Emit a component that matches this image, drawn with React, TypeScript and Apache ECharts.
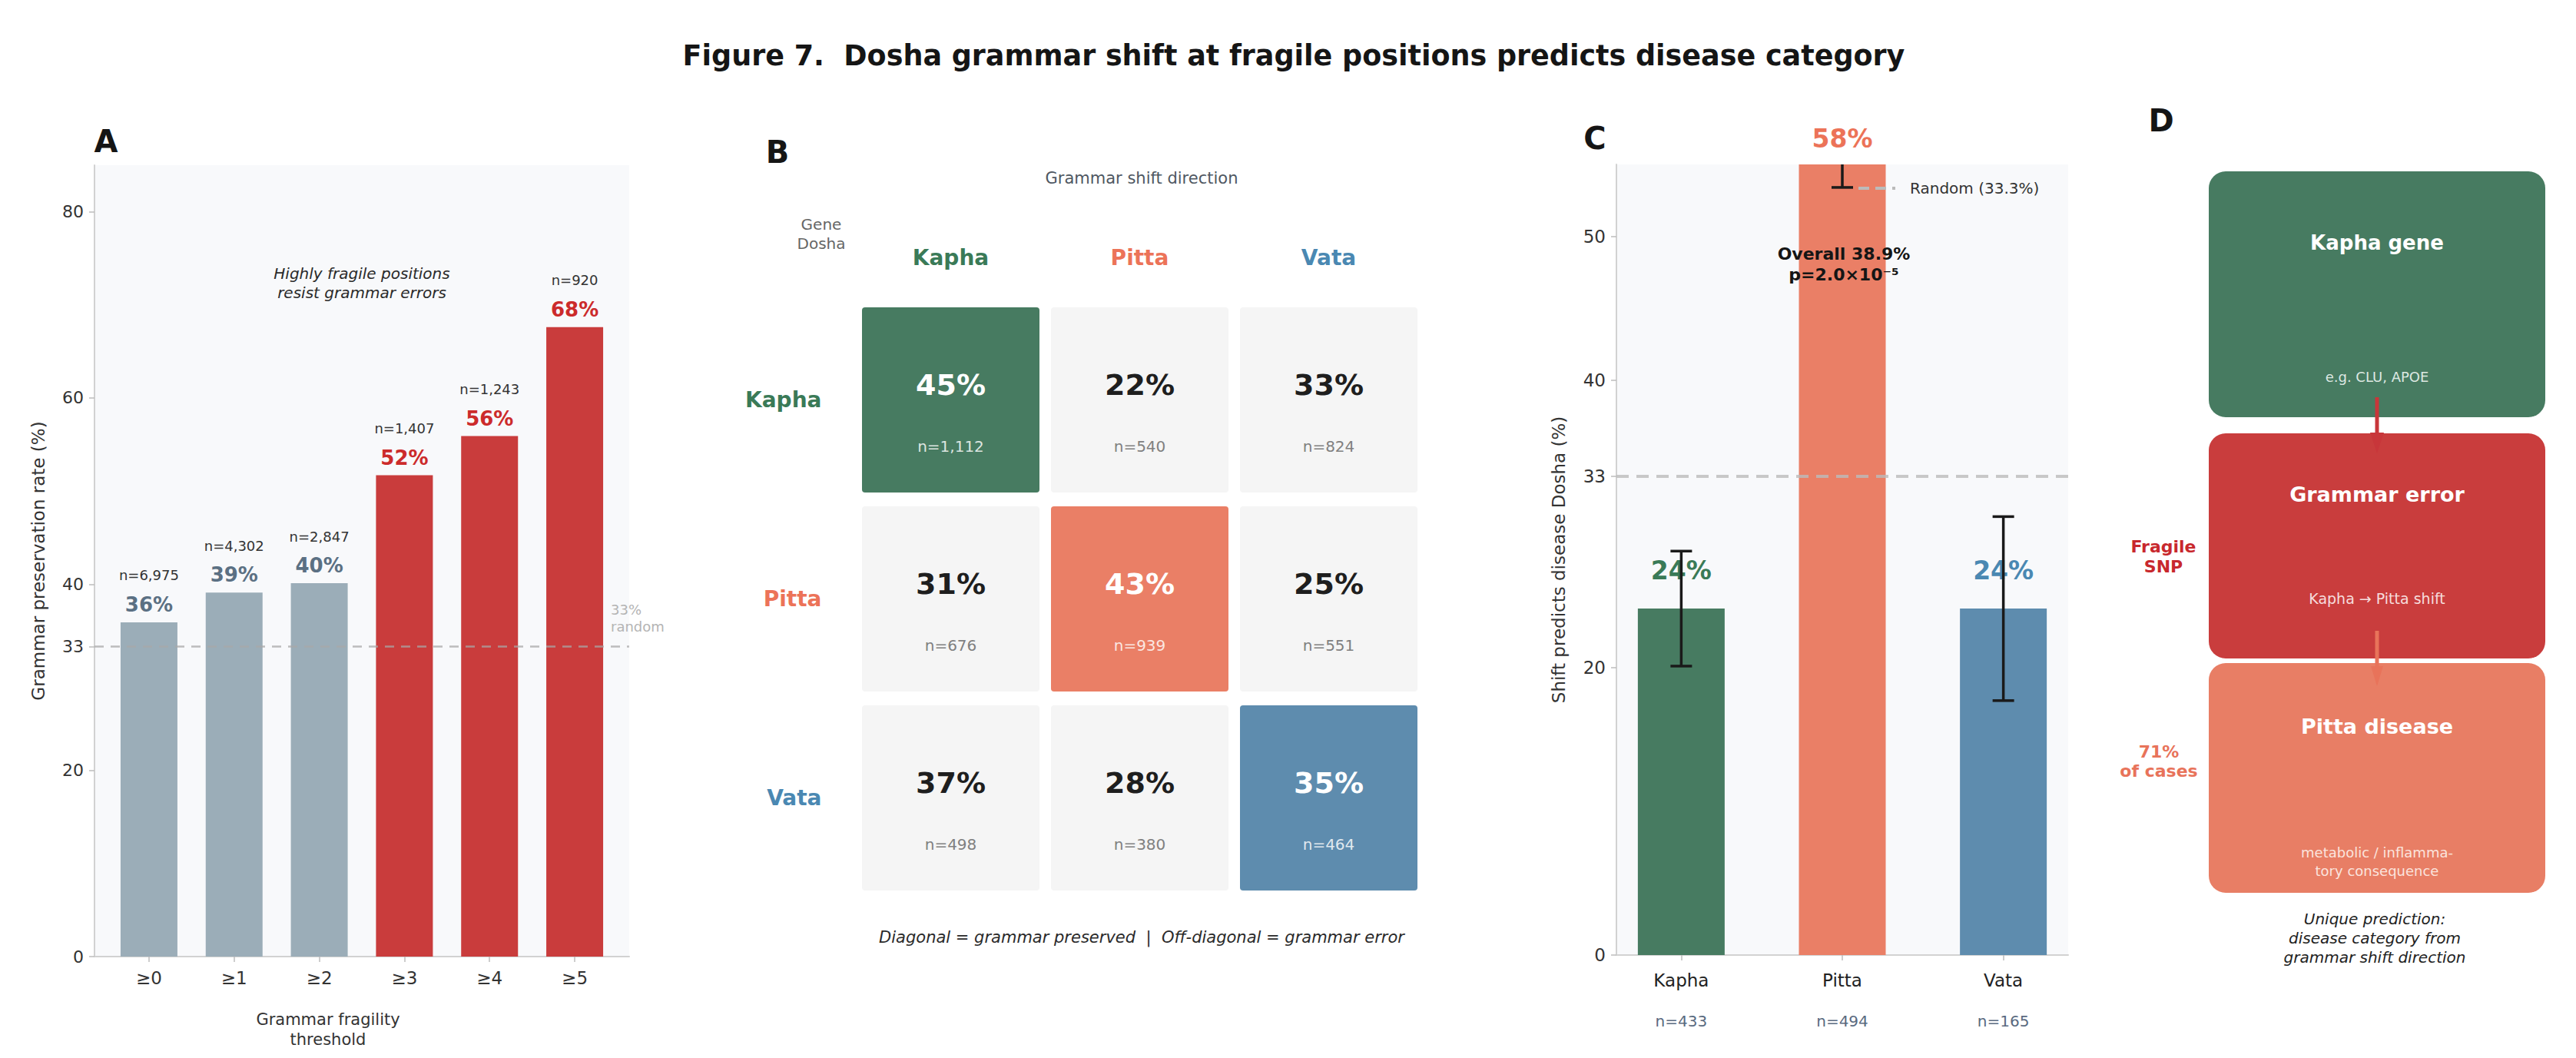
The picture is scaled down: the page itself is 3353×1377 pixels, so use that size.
import React, { useEffect, useRef } from 'react';
import * as echarts from 'echarts';

const FONT = 'DejaVu Sans';

// ---------- Panel A data ----------
const thresholds = ['≥0', '≥1', '≥2', '≥3', '≥4', '≥5'];
const preservation = [35.9, 39.1, 40.1, 51.7, 55.9, 67.6];
const thresholdN = ['6,975', '4,302', '2,847', '1,407', '1,243', '920'];
const aYTicks = [0, 20, 33.3, 40, 60, 80];
const randomRate = 33.3;

// ---------- Panel B data ----------
const doshas = ['Kapha', 'Pitta', 'Vata'];
const matrixPct = [
  [45, 22, 33],
  [31, 43, 25],
  [37, 28, 35],
];
const matrixN = [
  [1112, 540, 824],
  [676, 939, 551],
  [498, 380, 464],
];

// ---------- Panel C data ----------
const shiftCats = ['Kapha', 'Pitta', 'Vata'];
const shiftPct = [24.1, 57.9, 24.1];
const shiftLow = [20.1, 53.4, 17.7];
const shiftHigh = [28.1, 62.4, 30.5];
const shiftN = [433, 494, 165];
const cYTicks = [0, 20, 33.3, 40, 50];

// ---------- colours ----------
const KAPHA = '#477b61';
const PITTA = '#ea7f66';
const VATA = '#5e8cae';
const KAPHA_T = '#3a7a57';
const PITTA_T = '#ec7358';
const VATA_T = '#4a88b2';
const GRAY_BAR = '#9badb8';
const RED_BAR = '#c93c3c';
const cellDiag = [KAPHA, PITTA, VATA];
const headText = [KAPHA_T, PITTA_T, VATA_T];

function T(x: number, y: number, text: string, o: any = {}) {
  return {
    type: 'text',
    x,
    y,
    z: o.z ?? 20,
    style: {
      text,
      fill: o.fill ?? '#333',
      fontSize: o.size ?? 20,
      fontWeight: o.weight ?? 'normal',
      fontStyle: o.style ?? 'normal',
      fontFamily: FONT,
      lineHeight: o.lh,
      align: o.align ?? 'center',
      textAlign: o.align ?? 'center',
      verticalAlign: 'middle',
      textVerticalAlign: 'middle',
    },
  };
}

function buildOption(): any {
  const axisLineStyle = { color: '#d2d2d2', width: 2 };
  const tickStyle = { color: '#bdbdbd', width: 1.5 };

  const graphic: any[] = [
    T(1684, 72, 'Figure 7.  Dosha grammar shift at fragile positions predicts disease category', { size: 36.5, weight: 'bold', fill: '#151515' }),
    T(138, 184, 'A', { size: 40, weight: 'bold', fill: '#151515' }),
    T(1012, 198, 'B', { size: 40, weight: 'bold', fill: '#151515' }),
    T(2076, 180, 'C', { size: 40, weight: 'bold', fill: '#151515' }),
    T(2813, 157, 'D', { size: 40, weight: 'bold', fill: '#151515' }),
    // Panel A
    T(471, 368, 'Highly fragile positions\nresist grammar errors', { size: 20, style: 'italic', lh: 25, fill: '#2a2a2a' }),
    T(795, 804, '33%\nrandom', { size: 18, lh: 22, fill: '#b4b4b4', align: 'left' }),
    T(427, 1340, 'Grammar fragility\nthreshold', { size: 21, lh: 26, fill: '#333' }),
    // Panel B
    T(1486, 232, 'Grammar shift direction', { size: 21, fill: '#4f5862' }),
    T(1069, 304, 'Gene\nDosha', { size: 20, lh: 25, fill: '#666' }),
    T(1486, 1220, 'Diagonal = grammar preserved  |  Off-diagonal = grammar error', { size: 21, style: 'italic', fill: '#2a2a2a' }),
    // Panel C
    T(2400, 344, 'Overall 38.9%\np=2.0×10⁻⁵', { size: 22, weight: 'bold', lh: 27, fill: '#151515' }),
    {
      type: 'line',
      z: 20,
      shape: { x1: 2419, y1: 245, x2: 2467, y2: 245 },
      style: { stroke: '#bbbbbb', lineWidth: 4, lineDash: [14, 8] },
    },
    T(2486, 245, 'Random (33.3%)', { size: 20, align: 'left', fill: '#333' }),
    // Panel D boxes
    { type: 'rect', z: 10, shape: { x: 2875, y: 223, width: 438, height: 320, r: 22 }, style: { fill: KAPHA } },
    { type: 'rect', z: 10, shape: { x: 2875, y: 564, width: 438, height: 293, r: 22 }, style: { fill: '#c93d3d' } },
    { type: 'rect', z: 10, shape: { x: 2875, y: 863, width: 438, height: 299, r: 22 }, style: { fill: '#e87e65' } },
    T(3094, 316, 'Kapha gene', { size: 26, weight: 'bold', fill: '#ffffff' }),
    T(3094, 490, 'e.g. CLU, APOE', { size: 18, fill: '#dde8e2' }),
    T(3094, 643, 'Grammar error', { size: 27, weight: 'bold', fill: '#ffffff' }),
    T(3094, 779, 'Kapha → Pitta shift', { size: 19, fill: '#f6dddd' }),
    T(3094, 945, 'Pitta disease', { size: 27, weight: 'bold', fill: '#ffffff' }),
    T(3094, 1121, 'metabolic / inflamma-\ntory consequence', { size: 18, lh: 24, fill: '#fbe4dd' }),
    // arrows
    { type: 'line', z: 15, shape: { x1: 3094, y1: 517, x2: 3094, y2: 566 }, style: { stroke: '#c8363a', lineWidth: 5 } },
    { type: 'polygon', z: 15, shape: { points: [[3085, 563], [3103, 563], [3094, 590]] }, style: { fill: '#c8363a' } },
    { type: 'line', z: 15, shape: { x1: 3094, y1: 821, x2: 3094, y2: 870 }, style: { stroke: '#e8735a', lineWidth: 5 } },
    { type: 'polygon', z: 15, shape: { points: [[3086, 867], [3102, 867], [3094, 893]] }, style: { fill: '#e8735a' } },
    T(2816, 724, 'Fragile\nSNP', { size: 22, weight: 'bold', lh: 26, fill: '#c8282d' }),
    T(2810, 991, '71%\nof cases', { size: 22, weight: 'bold', lh: 25, fill: '#e8735a' }),
    T(3091, 1221, 'Unique prediction:\ndisease category from\ngrammar shift direction', { size: 20, style: 'italic', lh: 25, fill: '#222' }),
  ];

  const cells: number[][] = [];
  for (let r = 0; r < 3; r++) for (let c = 0; c < 3; c++) cells.push([c, r, matrixPct[r][c], matrixN[r][c]]);

  return {
    animation: false,
    backgroundColor: '#ffffff',
    textStyle: { fontFamily: FONT },
    grid: [
      { left: 123, top: 215, width: 696, height: 1030, show: true, backgroundColor: '#f8f9fb', borderWidth: 0 },
      { left: 1114.5, top: 391, width: 738, height: 777 },
      { left: 2104, top: 214, width: 588, height: 1029, show: true, backgroundColor: '#f8f9fb', borderWidth: 0 },
    ],
    xAxis: [
      {
        gridIndex: 0,
        type: 'value',
        min: -0.64,
        max: 5.64,
        splitLine: { show: false },
        axisLine: { show: true, onZero: false, lineStyle: axisLineStyle },
        axisTick: { show: true, length: 7, lineStyle: tickStyle, customValues: [0, 1, 2, 3, 4, 5] },
        axisLabel: {
          customValues: [0, 1, 2, 3, 4, 5],
          formatter: (v: number) => thresholds[Math.round(v)] ?? '',
          fontSize: 23,
          color: '#333',
          margin: 16,
        },
      },
      {
        gridIndex: 1,
        type: 'category',
        data: doshas,
        position: 'top',
        axisLine: { show: false },
        axisTick: { show: false },
        splitLine: { show: false },
        axisLabel: {
          margin: 42,
          formatter: (v: string, i: number) => `{c${i}|${v}}`,
          rich: {
            c0: { color: headText[0], fontSize: 28, fontWeight: 'bold', fontFamily: FONT },
            c1: { color: headText[1], fontSize: 28, fontWeight: 'bold', fontFamily: FONT },
            c2: { color: headText[2], fontSize: 28, fontWeight: 'bold', fontFamily: FONT },
          },
        },
      },
      {
        gridIndex: 2,
        type: 'value',
        min: -0.4025,
        max: 2.4025,
        splitLine: { show: false },
        axisLine: { show: true, onZero: false, lineStyle: axisLineStyle },
        axisTick: { show: true, length: 7, lineStyle: tickStyle, customValues: [0, 1, 2] },
        axisLabel: {
          customValues: [0, 1, 2],
          margin: 18,
          formatter: (v: number) => {
            const i = Math.round(v);
            return `{a|${shiftCats[i]}}\n{b|n=${shiftN[i]}}`;
          },
          rich: {
            a: { fontSize: 23, color: '#222', lineHeight: 30, fontFamily: FONT },
            b: { fontSize: 20, color: '#5a6a80', lineHeight: 76, fontFamily: FONT },
          },
        },
      },
    ],
    yAxis: [
      {
        gridIndex: 0,
        type: 'value',
        min: 0,
        max: 85,
        splitLine: { show: false },
        axisLine: { show: true, onZero: false, lineStyle: axisLineStyle },
        axisTick: { show: true, length: 7, lineStyle: tickStyle, customValues: aYTicks },
        axisLabel: {
          customValues: aYTicks,
          formatter: (v: number) => String(Math.round(v)),
          fontSize: 22,
          color: '#333',
          margin: 14,
        },
        name: 'Grammar preservation rate (%)',
        nameLocation: 'middle',
        nameGap: 62,
        nameTextStyle: { fontSize: 23, color: '#333', fontFamily: FONT },
      },
      {
        gridIndex: 1,
        type: 'category',
        data: doshas,
        inverse: true,
        axisLine: { show: false },
        axisTick: { show: false },
        splitLine: { show: false },
        axisLabel: {
          margin: 45,
          formatter: (v: string, i: number) => `{c${i}|${v}}`,
          rich: {
            c0: { color: headText[0], fontSize: 28, fontWeight: 'bold', fontFamily: FONT },
            c1: { color: headText[1], fontSize: 28, fontWeight: 'bold', fontFamily: FONT },
            c2: { color: headText[2], fontSize: 28, fontWeight: 'bold', fontFamily: FONT },
          },
        },
      },
      {
        gridIndex: 2,
        type: 'value',
        min: 0,
        max: 55,
        splitLine: { show: false },
        axisLine: { show: true, onZero: false, lineStyle: axisLineStyle },
        axisTick: { show: true, length: 7, lineStyle: tickStyle, customValues: cYTicks },
        axisLabel: {
          customValues: cYTicks,
          formatter: (v: number) => String(Math.round(v)),
          fontSize: 23,
          color: '#333',
          margin: 14,
        },
        name: 'Shift predicts disease Dosha (%)',
        nameLocation: 'middle',
        nameGap: 64,
        nameTextStyle: { fontSize: 23, color: '#333', fontFamily: FONT },
      },
    ],
    series: [
      {
        type: 'bar',
        xAxisIndex: 0,
        yAxisIndex: 0,
        barWidth: 74,
        data: preservation.map((v, i) => ({ value: [i, v], itemStyle: { color: i < 3 ? GRAY_BAR : RED_BAR } })),
        label: {
          show: true,
          position: 'top',
          distance: 8,
          formatter: (p: any) => {
            const i = p.dataIndex;
            const k = i < 3 ? 'g' : 'r';
            return `{n|n=${thresholdN[i]}}\n{${k}|${Math.round(preservation[i])}%}`;
          },
          rich: {
            n: { fontSize: 18, color: '#333', lineHeight: 46, fontFamily: FONT },
            g: { fontSize: 26, fontWeight: 'bold', color: '#5b7083', lineHeight: 30, fontFamily: FONT },
            r: { fontSize: 26, fontWeight: 'bold', color: '#cc2b2b', lineHeight: 30, fontFamily: FONT },
          },
        },
        markLine: {
          silent: true,
          symbol: ['none', 'none'],
          label: { show: false },
          lineStyle: { type: [12, 9], color: '#a8a8a8', width: 2.5, opacity: 0.75 },
          data: [{ yAxis: randomRate }],
        },
      },
      {
        type: 'custom',
        xAxisIndex: 1,
        yAxisIndex: 1,
        encode: { x: 0, y: 1 },
        data: cells,
        renderItem: (params: any, api: any) => {
          const col = api.value(0);
          const row = api.value(1);
          const pct = api.value(2);
          const n = api.value(3);
          const c = api.coord([col, row]);
          const s = api.size([1, 1]);
          const w = s[0] - 15;
          const h = s[1] - 18;
          const diag = col === row;
          return {
            type: 'group',
            children: [
              {
                type: 'rect',
                shape: { x: c[0] - w / 2, y: c[1] - h / 2, width: w, height: h, r: 4 },
                style: { fill: diag ? cellDiag[col] : '#f5f5f5' },
              },
              {
                type: 'text',
                x: c[0],
                y: c[1] - 20,
                style: {
                  text: `${pct}%`,
                  fill: diag ? '#ffffff' : '#1e1e1e',
                  fontSize: 38,
                  fontWeight: 'bold',
                  fontFamily: FONT,
                  align: 'center',
                  verticalAlign: 'middle',
                  textAlign: 'center',
                  textVerticalAlign: 'middle',
                },
              },
              {
                type: 'text',
                x: c[0],
                y: c[1] + 60,
                style: {
                  text: `n=${Number(n).toLocaleString('en-US')}`,
                  fill: diag ? 'rgba(255,255,255,0.82)' : '#808080',
                  fontSize: 20,
                  fontFamily: FONT,
                  align: 'center',
                  verticalAlign: 'middle',
                  textAlign: 'center',
                  textVerticalAlign: 'middle',
                },
              },
            ],
          };
        },
      },
      {
        type: 'bar',
        xAxisIndex: 2,
        yAxisIndex: 2,
        barWidth: 113,
        clip: true,
        z: 2,
        data: shiftPct.map((v, i) => ({
          value: [i, v],
          itemStyle: { color: cellDiag[i] },
          label: { color: headText[i], distance: v > 55 ? 17 : 33 },
        })),
        label: {
          show: true,
          position: 'top',
          formatter: (p: any) => `${Math.round(shiftPct[p.dataIndex])}%`,
          fontSize: 33,
          fontWeight: 'bold',
          lineHeight: 34,
          fontFamily: FONT,
        },
        markLine: {
          silent: true,
          symbol: ['none', 'none'],
          label: { show: false },
          lineStyle: { type: [16, 10], color: '#bcbcbc', width: 4, opacity: 0.8 },
          data: [{ yAxis: randomRate }],
        },
      },
      {
        type: 'custom',
        xAxisIndex: 2,
        yAxisIndex: 2,
        clip: true,
        z: 10,
        encode: { x: 0, y: [1, 2] },
        data: shiftPct.map((_, i) => [i, shiftLow[i], shiftHigh[i]]),
        renderItem: (params: any, api: any) => {
          const x = api.value(0);
          const top = api.coord([x, api.value(2)]);
          const bot = api.coord([x, api.value(1)]);
          const cap = 14;
          const st = { stroke: '#1a1a1a', lineWidth: 3.5 };
          return {
            type: 'group',
            children: [
              { type: 'line', shape: { x1: top[0], y1: top[1], x2: bot[0], y2: bot[1] }, style: st },
              { type: 'line', shape: { x1: top[0] - cap, y1: top[1], x2: top[0] + cap, y2: top[1] }, style: st },
              { type: 'line', shape: { x1: bot[0] - cap, y1: bot[1], x2: bot[0] + cap, y2: bot[1] }, style: st },
            ],
          };
        },
      },
    ],
    graphic,
  };
}

export default function App() {
  const ref = useRef<HTMLDivElement>(null);
  useEffect(() => {
    document.body.style.margin = '0';
    document.body.style.overflow = 'hidden';
    const chart = echarts.init(ref.current as HTMLDivElement, null, { renderer: 'svg' });
    chart.setOption(buildOption());
    return () => chart.dispose();
  }, []);
  return <div ref={ref} style={{ width: 3353, height: 1377, background: '#ffffff' }} />;
}
